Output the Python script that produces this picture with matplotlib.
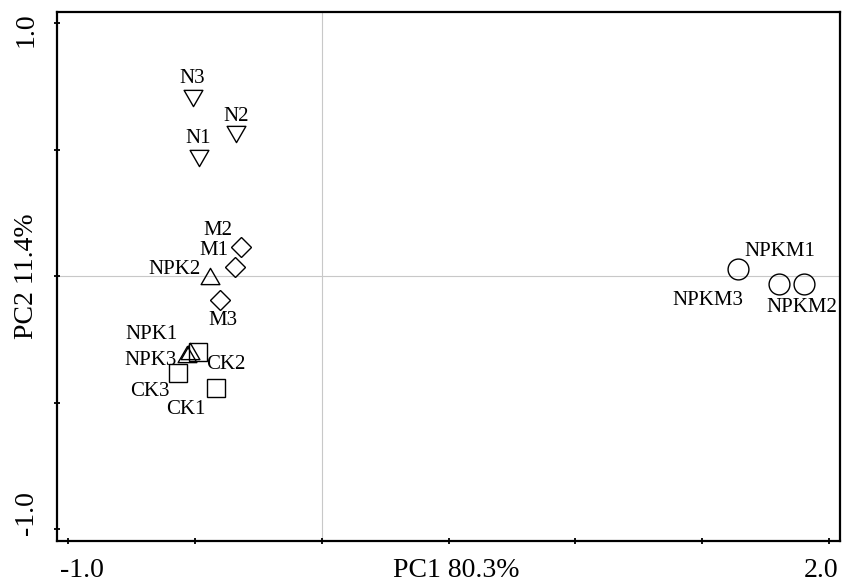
import matplotlib.pyplot as plt
from matplotlib.path import Path
from matplotlib.transforms import ScaledTranslation

plt.rcParams['font.family'] = ['Liberation Serif', 'DejaVu Serif']

# sample scores on PC1 / PC2
names = ['N1', 'N2', 'N3', 'M1', 'M2', 'M3', 'NPK1', 'NPK2', 'NPK3',
         'CK1', 'CK2', 'CK3', 'NPKM1', 'NPKM2', 'NPKM3']
groups = ['N'] * 3 + ['M'] * 3 + ['NPK'] * 3 + ['CK'] * 3 + ['NPKM'] * 3
pc1 = [-0.485, -0.338, -0.509, -0.341, -0.317, -0.399, -0.519, -0.440, -0.531,
       -0.417, -0.488, -0.566, 1.641, 1.901, 1.803]
pc2 = [0.468, 0.561, 0.704, 0.034, 0.116, -0.094, -0.296, 0.002, -0.308,
       -0.443, -0.300, -0.383, 0.028, -0.032, -0.032]

x_ticks = [-1.0, -0.5, 0.0, 0.5, 1.0, 1.5, 2.0]
x_labels = ['-1.0', '', '', '', '', '', '2.0']
y_ticks = [-1.0, -0.5, 0.0, 0.5, 1.0]
y_labels = ['-1.0', '', '', '', '1.0']

# triangles with the box centred on the point
tri_up = Path([(0, 0.75), (-0.866, -0.75), (0.866, -0.75), (0, 0.75)], closed=True)
tri_down = Path([(0, -0.75), (-0.866, 0.75), (0.866, 0.75), (0, -0.75)], closed=True)
marker_style = {
    'N': dict(marker=tri_down, ms=13.5),
    'M': dict(marker='D', ms=10.5),
    'NPK': dict(marker=tri_up, ms=13.5),
    'CK': dict(marker='s', ms=13.5),
    'NPKM': dict(marker='o', ms=15),
}
# label offsets in pixels (dx, dy up)
label_off = {
    'N1': (-1, 21), 'N2': (0, 20), 'N3': (0, 21),
    'M1': (-21, 19), 'M2': (-23, 18), 'M3': (2, -19),
    'NPK1': (-39, 18), 'NPK2': (-36, 8), 'NPK3': (-36, -5),
    'CK1': (-30, -19), 'CK2': (28, -11), 'CK3': (-28, -17),
    'NPKM1': (42, 19), 'NPKM2': (-2, -21), 'NPKM3': (-71, -14),
}

fig = plt.figure(figsize=(8.53, 5.83), dpi=100)
ax = fig.add_axes([0.0668, 0.0720, 0.918, 0.9074])

ax.axhline(0, color='#c8c8c8', lw=0.8, zorder=0)
ax.axvline(0, color='#c8c8c8', lw=0.8, zorder=0)

for g in ['N', 'M', 'NPK', 'CK', 'NPKM']:
    xs = [x for x, gg in zip(pc1, groups) if gg == g]
    ys = [y for y, gg in zip(pc2, groups) if gg == g]
    st = marker_style[g]
    ax.plot(xs, ys, ls='none', marker=st['marker'], ms=st['ms'],
            mfc='none', mec='black', mew=1.0)

for n, x, y in zip(names, pc1, pc2):
    dx, dy = label_off[n]
    # va=center sits ~2px below the cap centre
    ax.annotate(n, (x, y), xytext=(dx, dy - 2), textcoords='offset pixels',
                ha='center', va='center', fontsize=15)

ax.set_xlim(-1.0434, 2.0434)
ax.set_ylim(-1.0474, 1.0435)

ax.set_xticks(x_ticks, x_labels)
ax.set_yticks(y_ticks, y_labels)
ax.tick_params(direction='inout', length=4.3, width=1.3, labelsize=20)
ax.tick_params(axis='x', pad=10)
ax.tick_params(axis='y', pad=11)
for lab in ax.get_yticklabels():
    lab.set_rotation(90)
    lab.set_va('center')

for s in ax.spines.values():
    s.set_linewidth(1.6)

# tick labels pulled in to the frame edges
shifts_x = {'-1.0': (13.5, 0), '2.0': (-7.5, 0)}
shifts_y = {'-1.0': (0, 15.5), '1.0': (0, -7)}
for lab in ax.get_xticklabels():
    if lab.get_text() in shifts_x:
        dx, dy = shifts_x[lab.get_text()]
        lab.set_transform(lab.get_transform() + ScaledTranslation(dx / 100, dy / 100, fig.dpi_scale_trans))
for lab in ax.get_yticklabels():
    if lab.get_text() in shifts_y:
        dx, dy = shifts_y[lab.get_text()]
        lab.set_transform(lab.get_transform() + ScaledTranslation(dx / 100, dy / 100, fig.dpi_scale_trans))

ax.set_xlabel('PC1 80.3%', fontsize=20)
ax.set_ylabel('PC2 11.4%', fontsize=20)
ax.xaxis.set_label_coords(0.5096, -0.0321)
ax.yaxis.set_label_coords(-0.023, 0.5)

fig.savefig('out.png', dpi=100)
